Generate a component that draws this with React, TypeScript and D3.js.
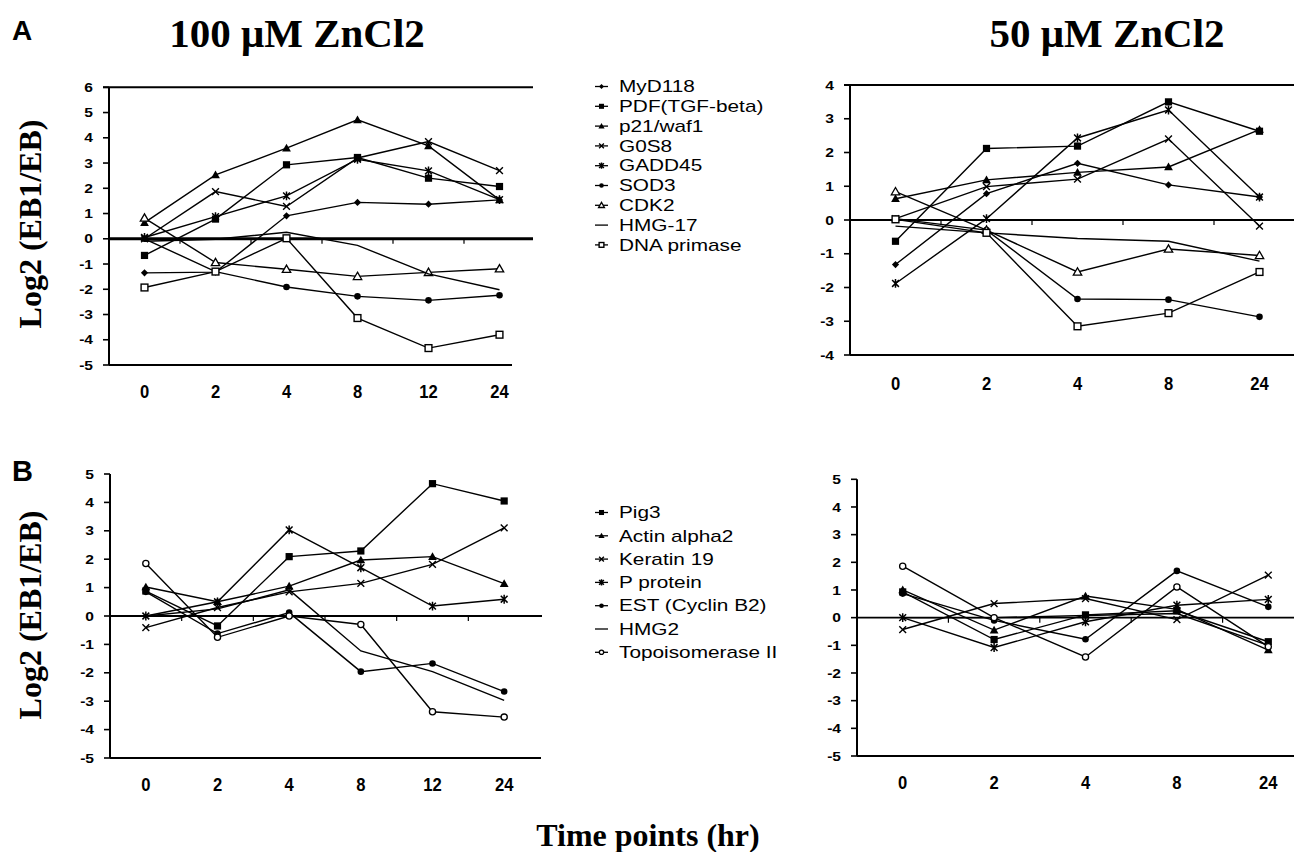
import React from "react";
import * as d3 from "d3";

// ---------- data ----------
const timesA = ["0", "2", "4", "8", "12", "24"];
const timesB = ["0", "2", "4", "8", "24"];

const genesA = ["MyD118", "PDF(TGF-beta)", "p21/waf1", "G0S8", "GADD45", "SOD3", "CDK2", "HMG-17", "DNA primase"];
const genesB = ["Pig3", "Actin alpha2", "Keratin 19", "P protein", "EST (Cyclin B2)", "HMG2", "Topoisomerase II"];

// Panel A, 100 µM (times 0,2,4,8,12,24)
const valsA100 = [
  [-1.35, -1.32, 0.91, 1.44, 1.37, 1.54],
  [-0.66, 0.78, 2.93, 3.22, 2.4, 2.07],
  [0.64, 2.53, 3.59, 4.71, 3.68, 1.54],
  [0.0, 1.87, 1.28, 3.2, 3.85, 2.7],
  [0.05, 0.88, 1.7, 3.15, 2.69, 1.55],
  [0.0, -1.3, -1.91, -2.28, -2.44, -2.24],
  [0.82, -0.94, -1.21, -1.49, -1.33, -1.19],
  [-0.1, -0.02, 0.26, -0.26, -1.39, -2.02],
  [-1.93, -1.3, 0.02, -3.14, -4.33, -3.8],
];
// Panel A, 50 µM (times 0,2,4,8,24)
const valsA50 = [
  [-1.32, 0.78, 1.68, 1.04, 0.68],
  [-0.63, 2.12, 2.19, 3.5, 2.63],
  [0.63, 1.19, 1.41, 1.57, 2.68],
  [0.04, 0.99, 1.21, 2.4, -0.18],
  [-1.88, 0.04, 2.43, 3.26, 0.68],
  [0.04, -0.3, -2.34, -2.36, -2.87],
  [0.84, -0.3, -1.54, -0.86, -1.05],
  [-0.18, -0.38, -0.55, -0.63, -1.22],
  [0.02, -0.38, -3.15, -2.76, -1.54],
];
// Panel B, 100 µM
const valsB100 = [
  [0.88, -0.35, 2.09, 2.29, 4.66, 4.05],
  [1.02, 0.5, 1.05, 1.97, 2.09, 1.14],
  [-0.41, 0.3, 0.85, 1.15, 1.82, 3.1],
  [0.0, 0.5, 3.03, 1.7, 0.35, 0.59],
  [0.85, -0.62, 0.12, -1.96, -1.67, -2.66],
  [0.0, 0.25, 0.92, -1.23, -1.96, -2.97],
  [1.85, -0.75, 0.0, -0.3, -3.37, -3.56],
];
// Panel B, 50 µM
const valsB50 = [
  [0.93, -0.79, 0.1, 0.25, -0.87],
  [1.0, -0.45, 0.78, 0.3, -1.17],
  [-0.43, 0.51, 0.69, -0.07, 1.54],
  [0.0, -1.08, -0.15, 0.45, 0.66],
  [0.87, -0.1, -0.78, 1.69, 0.39],
  [0.0, 0.0, 0.08, 0.15, -1.0],
  [1.86, 0.0, -1.42, 1.11, -1.05],
];

// ---------- styles ----------
const markerA: Record<string, string> = {
  "MyD118": "diamond",
  "PDF(TGF-beta)": "square",
  "p21/waf1": "triangle",
  "G0S8": "x",
  "GADD45": "asterisk",
  "SOD3": "circle",
  "CDK2": "triangleOpen",
  "HMG-17": "none",
  "DNA primase": "squareOpen",
};
const markerB: Record<string, string> = {
  "Pig3": "square",
  "Actin alpha2": "triangle",
  "Keratin 19": "x",
  "P protein": "asterisk",
  "EST (Cyclin B2)": "circle",
  "HMG2": "none",
  "Topoisomerase II": "circleOpen",
};

const SANS = "'Liberation Sans', Arial, Helvetica, sans-serif";
const SERIF = "'Liberation Serif', 'Times New Roman', Times, serif";

function Marker({ type, x, y, k = 1 }: { type: string; x: number; y: number; k?: number }) {
  const c = "#000";
  switch (type) {
    case "diamond": {
      const s = 3.6 * k;
      return <path d={`M${x},${y - s}L${x + s},${y}L${x},${y + s}L${x - s},${y}Z`} fill={c} />;
    }
    case "square": {
      const s = 3.6 * k;
      return <rect x={x - s} y={y - s} width={2 * s} height={2 * s} fill={c} />;
    }
    case "triangle": {
      const s = 4.4 * k;
      return <path d={`M${x},${y - s}L${x + s},${y + s * 0.75}L${x - s},${y + s * 0.75}Z`} fill={c} />;
    }
    case "triangleOpen": {
      const s = 4.2 * k;
      return <path d={`M${x},${y - s}L${x + s},${y + s * 0.75}L${x - s},${y + s * 0.75}Z`} fill="#fff" stroke={c} strokeWidth={1.3} />;
    }
    case "x": {
      const s = 3.4 * k;
      return (
        <path d={`M${x - s},${y - s}L${x + s},${y + s}M${x - s},${y + s}L${x + s},${y - s}`} stroke={c} strokeWidth={1.4} fill="none" />
      );
    }
    case "asterisk": {
      const s = 3.4 * k;
      return (
        <path
          d={`M${x - s},${y - s}L${x + s},${y + s}M${x - s},${y + s}L${x + s},${y - s}M${x},${y - s * 1.3}L${x},${y + s * 1.3}`}
          stroke={c}
          strokeWidth={1.5}
          fill="none"
        />
      );
    }
    case "circle":
      return <circle cx={x} cy={y} r={3.3 * k} fill={c} />;
    case "circleOpen":
      return <circle cx={x} cy={y} r={3.1 * k} fill="#fff" stroke={c} strokeWidth={1.3} />;
    case "squareOpen": {
      const s = 3.4 * k;
      return <rect x={x - s} y={y - s} width={2 * s} height={2 * s} fill="#fff" stroke={c} strokeWidth={1.4} />;
    }
    default:
      return null;
  }
}

type PanelCfg = {
  key: string;
  times: string[];
  genes: string[];
  vals: number[][];
  markers: Record<string, string>;
  x0: number;
  x1: number;
  yDom: [number, number];
  yRange: [number, number];
  topLine: boolean;
  lineEnd: number;
  bottomEnd: number;
  zeroWidth: number;
  labelY: number;
};

const panels: PanelCfg[] = [
  {
    key: "A100", times: timesA, genes: genesA, vals: valsA100, markers: markerA,
    x0: 109, x1: 535, yDom: [-5, 6], yRange: [365, 87.3], topLine: true,
    lineEnd: 533, bottomEnd: 512, zeroWidth: 2.8, labelY: 398,
  },
  {
    key: "A50", times: timesB, genes: genesA, vals: valsA50, markers: markerA,
    x0: 850, x1: 1305, yDom: [-4, 4], yRange: [355, 85], topLine: true,
    lineEnd: 1294, bottomEnd: 1294, zeroWidth: 2, labelY: 390,
  },
  {
    key: "B100", times: timesA, genes: genesB, vals: valsB100, markers: markerB,
    x0: 110, x1: 540, yDom: [-5, 5], yRange: [758, 474], topLine: false,
    lineEnd: 542, bottomEnd: 541, zeroWidth: 1.8, labelY: 791,
  },
  {
    key: "B50", times: timesB, genes: genesB, vals: valsB50, markers: markerB,
    x0: 857, x1: 1314, yDom: [-5, 5], yRange: [756, 479.3], topLine: false,
    lineEnd: 1294, bottomEnd: 1294, zeroWidth: 1.8, labelY: 789,
  },
];

function Panel({ p }: { p: PanelCfg }) {
  const x = d3.scalePoint<string>().domain(p.times).range([p.x0, p.x1]).padding(0.5);
  const y = d3.scaleLinear().domain(p.yDom).range(p.yRange);
  const line = d3
    .line<number>()
    .x((_, i) => x(p.times[i]) as number)
    .y((d) => y(d));
  const ticks = d3.range(p.yDom[0], p.yDom[1] + 1);
  const step = x.step();
  const mids = p.times.slice(0, -1).map((t) => (x(t) as number) + step / 2);
  return (
    <g>
      {/* y axis */}
      <line x1={p.x0} x2={p.x0} y1={y(p.yDom[0])} y2={y(p.yDom[1])} stroke="#000" strokeWidth={2} />
      {ticks.map((t) => (
        <g key={t}>
          <line x1={p.x0 - 6} x2={p.x0} y1={y(t)} y2={y(t)} stroke="#000" strokeWidth={1.6} />
          <text
            transform={`translate(${p.x0 - 16},${y(t)}) scale(1.2,1)`}
            dy="0.36em"
            textAnchor="end"
            fontFamily={SANS}
            fontWeight="bold"
            fontSize={13}
          >
            {t}
          </text>
        </g>
      ))}
      {/* horizontal framing lines */}
      {p.topLine && (
        <line x1={p.x0 - 6} x2={p.lineEnd} y1={y(p.yDom[1])} y2={y(p.yDom[1])} stroke="#000" strokeWidth={2} />
      )}
      <line x1={p.x0} x2={p.bottomEnd} y1={y(p.yDom[0])} y2={y(p.yDom[0])} stroke="#000" strokeWidth={2.2} />
      <line x1={p.x0} x2={p.lineEnd} y1={y(0)} y2={y(0)} stroke="#000" strokeWidth={p.zeroWidth} />
      {mids.map((m, i) => (
        <line key={i} x1={m} x2={m} y1={y(0)} y2={y(0) + 5} stroke="#000" strokeWidth={1.2} />
      ))}
      {/* x tick labels */}
      {p.times.map((t) => (
        <text
          key={t}
          transform={`translate(${x(t)},${p.labelY}) scale(0.95,1)`}
          textAnchor="middle"
          fontFamily={SANS}
          fontWeight="bold"
          fontSize={17.5}
        >
          {t}
        </text>
      ))}
      {/* series */}
      {p.genes.map((g, gi) => (
        <g key={g}>
          <path d={line(p.vals[gi]) || ""} fill="none" stroke="#000" strokeWidth={1.4} />
          {p.vals[gi].map((v, i) => (
            <Marker key={i} type={p.markers[g]} x={x(p.times[i]) as number} y={y(v)} />
          ))}
        </g>
      ))}
    </g>
  );
}

function Legend({ genes, markers, y0, dy }: { genes: string[]; markers: Record<string, string>; y0: number; dy: number }) {
  return (
    <g>
      {genes.map((g, i) => {
        const yy = y0 + i * dy;
        return (
          <g key={g}>
            <line x1={595} x2={608} y1={yy} y2={yy} stroke="#000" strokeWidth={1.3} />
            <Marker type={markers[g]} x={601.5} y={yy} k={0.7} />
            <text
              transform={`translate(619,${yy}) scale(1.3,1)`}
              dy="0.36em"
              fontFamily={SANS}
              fontSize={16}
            >
              {g}
            </text>
          </g>
        );
      })}
    </g>
  );
}

export default function App() {
  return (
    <svg
      width={1294}
      height={852}
      style={{ position: "absolute", left: 0, top: 0, background: "#fff" }}
    >
      <rect width={1294} height={852} fill="#fff" />
      <text x={12} y={40} fontFamily={SANS} fontWeight="bold" fontSize={28}>A</text>
      <text x={12} y={481} fontFamily={SANS} fontWeight="bold" fontSize={29}>B</text>
      <text x={297} y={47} textAnchor="middle" fontFamily={SERIF} fontWeight="bold" fontSize={41}>100 μM ZnCl2</text>
      <text x={1107} y={47} textAnchor="middle" fontFamily={SERIF} fontWeight="bold" fontSize={41}>50 μM ZnCl2</text>
      <text transform="translate(41,224) rotate(-90)" textAnchor="middle" fontFamily={SERIF} fontWeight="bold" fontSize={32}>Log2 (EB1/EB)</text>
      <text transform="translate(41,615) rotate(-90)" textAnchor="middle" fontFamily={SERIF} fontWeight="bold" fontSize={32}>Log2 (EB1/EB)</text>
      <text x={648} y={846} textAnchor="middle" fontFamily={SERIF} fontWeight="bold" fontSize={32}>Time points (hr)</text>
      {panels.map((p) => (
        <Panel key={p.key} p={p} />
      ))}
      <Legend genes={genesA} markers={markerA} y0={86.5} dy={19.8} />
      <Legend genes={genesB} markers={markerB} y0={512.5} dy={23.3} />
    </svg>
  );
}
